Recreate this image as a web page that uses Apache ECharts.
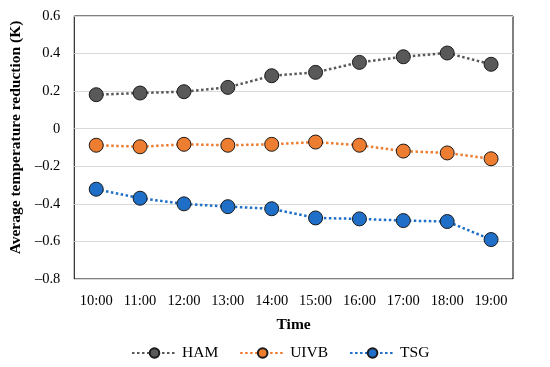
<!DOCTYPE html>
<html><head><meta charset="utf-8">
<script src="https://cdn.jsdelivr.net/npm/echarts@6/dist/echarts.min.js"></script>
<style>html,body{margin:0;padding:0;background:#fff}#c{width:550px;height:367px}</style>
</head><body><div id="c"></div>
<script>
var categories = ['10:00','11:00','12:00','13:00','14:00','15:00','16:00','17:00','18:00','19:00'];
var ham  = [0.181, 0.19, 0.197, 0.22, 0.282, 0.30, 0.353, 0.383, 0.403, 0.343];
var uivb = [-0.088, -0.096, -0.083, -0.088, -0.083, -0.071, -0.088, -0.119, -0.129, -0.16];
var tsg  = [-0.322, -0.37, -0.40, -0.415, -0.426, -0.475, -0.48, -0.489, -0.494, -0.59];
var seriesNames = ['HAM', 'UIVB', 'TSG'];
var colors = ['#595959', '#ED7D31', '#1F6FC8'];
var lineColors = ['#595959', '#ED7D31', '#1F6FC8'];
var font = 'Liberation Serif';
var chart = echarts.init(document.getElementById('c'));
function mk(name, data, i) {
  return {
    name: name, type: 'line', data: data,
    symbol: 'circle', symbolSize: 14,
    itemStyle: {color: colors[i], borderColor: '#1a1a1a', borderWidth: 1},
    lineStyle: {color: lineColors[i], width: 2.5, type: [2.5, 2.5]},
    emphasis: {disabled: true}
  };
}
chart.setOption({
  animation: false,
  textStyle: {fontFamily: font},
  grid: {left: 74, right: 37, top: 16, bottom: 88, show: true, borderColor: '#000', borderWidth: 1},
  legend: {
    left: 126, top: 340, itemWidth: 45, itemHeight: 12, itemGap: 21,
    textStyle: {fontFamily: font, fontSize: 15.5, color: '#000'},
    data: seriesNames
  },
  xAxis: {
    type: 'category', data: categories, boundaryGap: true,
    axisLine: {show: false}, axisTick: {show: false},
    axisLabel: {fontFamily: font, fontSize: 14.5, color: '#000', margin: 15},
    name: 'Time', nameLocation: 'middle', nameGap: 38,
    nameTextStyle: {fontFamily: font, fontSize: 15.5, fontWeight: 'bold', color: '#000'}
  },
  yAxis: {
    type: 'value', min: -0.8, max: 0.6, interval: 0.2,
    axisLine: {show: false}, axisTick: {show: false},
    splitLine: {lineStyle: {color: '#d9d9d9', width: 1}},
    axisLabel: {fontFamily: font, fontSize: 14.5, color: '#000', margin: 14,
      formatter: function (v) { var r = Math.round(v * 10) / 10; if (r === 0) return '0'; return (r < 0 ? '\u2013' : '') + Math.abs(r).toFixed(1); }},
    name: 'Average temperature reduction (K)', nameLocation: 'middle', nameGap: 50,
    nameTextStyle: {fontFamily: font, fontSize: 15.5, fontWeight: 'bold', color: '#000', padding: [0, 0, 0, 20]}
  },
  series: [mk('HAM', ham, 0), mk('UIVB', uivb, 1), mk('TSG', tsg, 2)]
});
</script></body></html>
